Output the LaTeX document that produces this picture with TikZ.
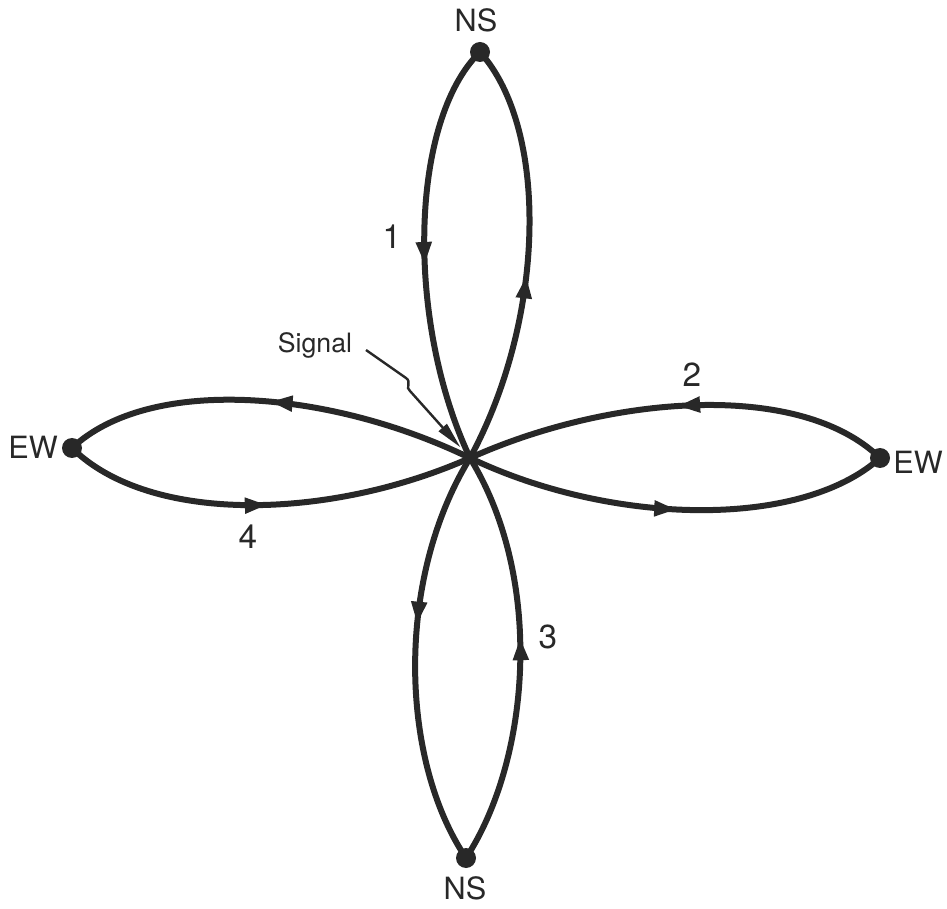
\documentclass[tikz,border=0pt]{standalone}
\usepackage{fontspec}
\setmainfont{TeX Gyre Heros}
\usetikzlibrary{arrows.meta}
\usetikzlibrary{decorations.markings}

\definecolor{ink}{RGB}{40,40,40}
\tikzset{
  petal/.style={draw=ink, line width=4.5pt},
  fwd/.style={postaction={decorate,decoration={markings,
      mark=at position #1 with {\arrow[ink]{Triangle[length=17pt,width=11pt]}}}}},
  bwd/.style={postaction={decorate,decoration={markings,
      mark=at position #1 with {\arrowreversed[ink]{Triangle[length=17pt,width=11pt]}}}}},
  dot/.style={circle, fill=ink, inner sep=0pt, minimum size=15pt},
  hub/.style={circle, fill=ink, inner sep=0pt, minimum size=9pt},
  lbl/.style={text=ink, inner sep=0.75pt, font=\fontsize{23}{26}\selectfont},
  num/.style={lbl, font=\fontsize{25}{28}\selectfont}
}

\begin{document}
\begin{tikzpicture}[x=0.75pt,y=0.75pt,yscale=-1,xscale=1]
\useasboundingbox (0,0) rectangle (947,909);

% Signal point and approach ends
\node [hub] (ctr) at (470,458) {};
\node [dot] (nsN) at (480,52) {};
\node [dot] (nsS) at (466,858) {};
\node [dot] (ewW) at (72,448) {};
\node [dot] (ewE) at (880,458) {};

% Text Node
\node [lbl] (tnsN) at (476,20) {NS};
\node [lbl] (tnsS) at (465,888) {NS};
\node [lbl] (tewW) at (33,447) {EW};
\node [lbl] (tewE) at (918,462) {EW};
\node [num] (t1) at (392,237) {1};
\node [num] (t2) at (692,375) {2};
\node [num] (t3) at (548,637) {3};
\node [num] (t4) at (248,537) {4};
\node [lbl, font=\fontsize{20}{24}\selectfont] (tsig) at (315,345) {Signal};

%Shape: Petal 1 (north)
\draw [petal, bwd=0.47] (ctr.center) .. controls (405,320) and (410,120) .. (nsN.center);
\draw [petal, fwd=0.45] (ctr.center) .. controls (545,320) and (550,130) .. (nsN.center);
%Shape: Petal 2 (east)
\draw [petal, bwd=0.5] (ctr.center) .. controls (610,395) and (800,380) .. (ewE.center);
\draw [petal, fwd=0.5] (ctr.center) .. controls (610,525) and (800,530) .. (ewE.center);
%Shape: Petal 3 (south)
\draw [petal, fwd=0.42] (ctr.center) .. controls (395,580) and (400,760) .. (nsS.center);
\draw [petal, bwd=0.45] (ctr.center) .. controls (545,580) and (530,760) .. (nsS.center);
%Shape: Petal 4 (west)
\draw [petal, fwd=0.5] (ctr.center) .. controls (330,390) and (150,375) .. (ewW.center);
\draw [petal, bwd=0.5] (ctr.center) .. controls (330,520) and (150,525) .. (ewW.center);

% Signal pointer
\coordinate (sigtail) at (366,350);
\draw [draw=ink, line width=1.8pt, -{Triangle[length=20pt,width=8pt]}, shorten >=6pt]
  (sigtail) -- (406,378) .. controls (412,382) and (405,388) .. (410,391) -- (ctr);

\end{tikzpicture}
\end{document}
